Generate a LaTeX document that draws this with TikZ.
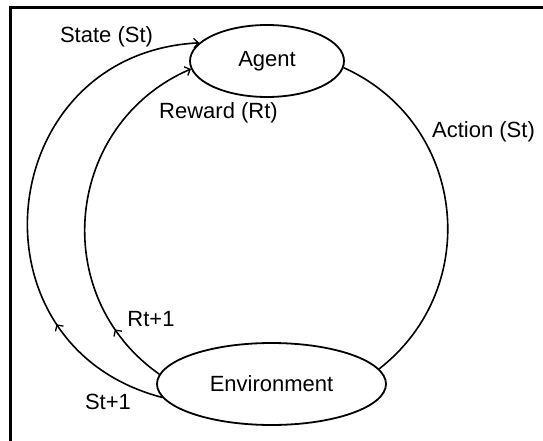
\documentclass[tikz,border=0pt]{standalone}
\usepackage{fontspec}
\setmainfont{Liberation Sans}
\usetikzlibrary{shapes.geometric,arrows.meta,decorations.markings}

\tikzset{
  tip/.tip={Straight Barb[length=4.5pt,width=9.5pt,line width=1.3pt]},
  blob/.style={ellipse, draw, line width=1.8pt, inner sep=0pt,
    font=\fontsize{22}{26}\selectfont},
  flow/.style={line width=1.6pt},
  lbl/.style={inner sep=0pt, font=\fontsize{22}{26}\selectfont},
  midarrow/.style={postaction={decorate},
    decoration={markings, mark=at position #1 with {\arrow{tip}}}},
}

\begin{document}
\begin{tikzpicture}[x=1pt,y=1pt]
  \useasboundingbox (0,0) rectangle (543,440);
  \clip (0,0) rectangle (543,440);

  % open frame: left and top edges
  \draw[line width=3pt] (10,-10) -- (10,432) -- (560,432);

  % the two states of the loop
  \node[blob, minimum width=154pt, minimum height=72pt] (agent) at (267,379) {Agent};
  \node[blob, minimum width=229pt, minimum height=82pt] (env) at (271.5,56) {Environment};

  % action: agent -> environment on the right
  \draw[flow] (agent.-5) to[out=-24.1, in=37.9, distance=133.5pt] (env.8);

  % reward: inner arc back to the agent
  \draw[flow, midarrow=0.17, -tip] (env.175) to[out=144.9, in=203.4, distance=137.3pt] (agent.186);

  % state: outer arc back to the agent
  \draw[flow, midarrow=0.256, -tip] (env.187.5) to[out=165.4, in=183, distance=206.3pt] (agent.165);

  % labels
  \node[lbl] (lstate)  at (106.5,403) {State (St)};
  \node[lbl] (lreward) at (218.5,327) {Reward (Rt)};
  \node[lbl] (laction) at (483.5,308) {Action (St)};
  \node[lbl] (lrt)     at (151,121)   {Rt+1};
  \node[lbl] (lst)     at (108,38)    {St+1};
\end{tikzpicture}
\end{document}
